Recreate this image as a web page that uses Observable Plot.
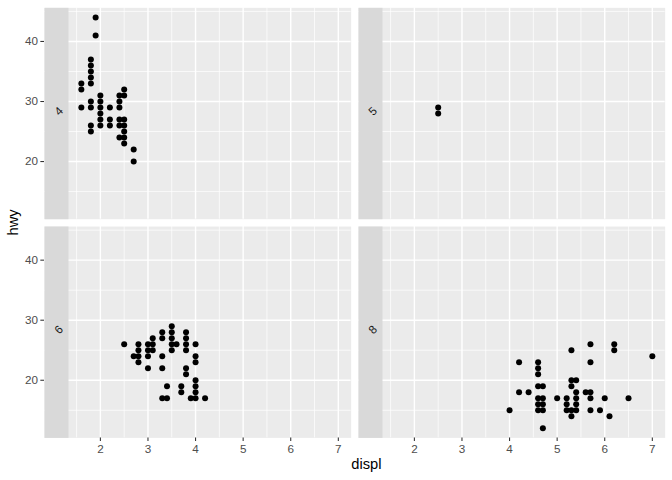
<!DOCTYPE html>
<html>
<head>
<meta charset="utf-8">
<script src="https://cdn.jsdelivr.net/npm/d3@7"></script>
<script src="https://cdn.jsdelivr.net/npm/@observablehq/plot@0.6"></script>
<style>
  html, body { margin: 0; padding: 0; background: white; }
  #wrap { position: relative; width: 672px; height: 480px; font-family: "Liberation Sans", Arial, sans-serif; }
  .axis-title { position: absolute; font-size: 14.7px; line-height: 1; color: #000; white-space: nowrap; }
</style>
</head>
<body>
<div id="wrap"></div>
<script>
// ---- data (unique displ/hwy pairs per cylinder count) ----
const cylinders = ["4", "5", "6", "8"];

const displ4 = [1.6,1.6,1.6, 1.8,1.8,1.8,1.8,1.8,1.8,1.8,1.8,1.8, 1.9,1.9, 2.0,2.0,2.0,2.0,2.0,2.0, 2.2,2.2,2.2, 2.4,2.4,2.4,2.4,2.4,2.4, 2.5,2.5,2.5,2.5,2.5,2.5,2.5, 2.7,2.7];
const hwy4   = [29,32,33, 25,26,29,30,33,34,35,36,37, 41,44, 26,27,28,29,30,31, 26,27,29, 24,26,27,29,30,31, 23,24,25,26,27,31,32, 20,22];

const displ5 = [2.5, 2.5];
const hwy5   = [28, 29];

const displ6 = [2.5, 2.7, 2.8,2.8,2.8,2.8, 3.0,3.0,3.0,3.0, 3.1,3.1,3.1, 3.3,3.3,3.3,3.3,3.3, 3.4,3.4, 3.5,3.5,3.5,3.5,3.5, 3.6, 3.7,3.7, 3.8,3.8,3.8,3.8,3.8,3.8, 3.9, 4.0,4.0,4.0,4.0,4.0,4.0,4.0, 4.2];
const hwy6   = [26, 24, 23,24,25,26, 22,24,25,26, 25,26,27, 17,22,24,27,28, 17,19, 25,26,27,28,29, 26, 18,19, 21,22,25,26,27,28, 17, 17,18,19,20,23,24,26, 17];

const displ8 = [4.0, 4.2,4.2, 4.4, 4.6,4.6,4.6,4.6,4.6,4.6,4.6, 4.7,4.7,4.7,4.7,4.7, 5.0, 5.2,5.2,5.2, 5.3,5.3,5.3,5.3,5.3, 5.4,5.4,5.4,5.4,5.4, 5.6, 5.7,5.7,5.7,5.7,5.7, 5.9, 6.0, 6.1, 6.2,6.2, 6.5, 7.0];
const hwy8   = [15, 18,23, 18, 15,16,17,19,21,22,23, 12,15,16,17,19, 17, 15,16,17, 14,15,19,20,25, 15,16,17,18,20, 18, 15,17,18,23,26, 15, 17, 14, 25,26, 17, 24];

const xBreaks = [2, 3, 4, 5, 6, 7];
const xMinor  = [1.5, 2.5, 3.5, 4.5, 5.5, 6.5];
const yBreaks = [20, 30, 40];
const yMinor  = [15, 25, 35, 45];

const xTitle = "displ";
const yTitle = "hwy";

// ---- build table ----
const seriesDispl = [displ4, displ5, displ6, displ8];
const seriesHwy = [hwy4, hwy5, hwy6, hwy8];
const rows = [];
const strips = [];
cylinders.forEach((c, i) => {
  const col = i % 2, row = Math.floor(i / 2);
  strips.push({cyl: c, col, row});
  seriesDispl[i].forEach((d, j) => rows.push({displ: d, hwy: seriesHwy[i][j], cyl: c, col, row}));
});

// ggplot-like 5% expansion
const expand = (vals) => {
  const [lo, hi] = d3.extent(vals);
  const p = (hi - lo) * 0.05;
  return [lo - p, hi + p];
};
const xDomain = expand(rows.map(d => d.displ));
const yDomain = expand(rows.map(d => d.hwy));

// ---- layout ----
const W = 672, H = 480;
const mL = 44, mR = 7.33, mT = 7.33, mB = 42.6, gap = 7.33;
const stripW = 24;
const bw = (W - mL - mR - gap) / 2;
const bh = (H - mT - mB - gap) / 2;

const chart = Plot.plot({
  width: W,
  height: H,
  marginLeft: mL,
  marginRight: mR,
  marginTop: mT,
  marginBottom: mB,
  style: {fontFamily: "Liberation Sans, Arial, sans-serif", fontSize: "11.7px", background: "white", color: "#4D4D4D"},
  fx: {axis: null, paddingInner: gap / (bw + gap), paddingOuter: 0, round: false},
  fy: {axis: null, paddingInner: gap / (bh + gap), paddingOuter: 0, round: false},
  x: {domain: xDomain, insetLeft: stripW},
  y: {domain: yDomain},
  marks: [
    Plot.frame({fill: "#EBEBEB", stroke: "none"}),
    Plot.gridX(xMinor, {stroke: "white", strokeOpacity: 1, strokeWidth: 0.71}),
    Plot.gridY(yMinor, {stroke: "white", strokeOpacity: 1, strokeWidth: 0.71}),
    Plot.gridX(xBreaks, {stroke: "white", strokeOpacity: 1, strokeWidth: 1.42}),
    Plot.gridY(yBreaks, {stroke: "white", strokeOpacity: 1, strokeWidth: 1.42}),
    Plot.frame({fill: "#D9D9D9", stroke: "none", insetRight: bw - stripW}),
    Plot.text(strips, {fx: "col", fy: "row", text: "cyl", frameAnchor: "left", dx: stripW / 2, rotate: -45, fontSize: 11.7, fill: "#1A1A1A"}),
    Plot.dot(rows, {fx: "col", fy: "row", x: "displ", y: "hwy", r: 3, fill: "black"}),
    Plot.axisX(xBreaks, {anchor: "bottom", label: null, tickSize: 3.67, tickPadding: 2.9, stroke: "#333333", strokeWidth: 1.07, color: "#4D4D4D", fontSize: 11.7}),
    Plot.axisY(yBreaks, {anchor: "left", label: null, tickSize: 3.67, tickPadding: 2.9, stroke: "#333333", strokeWidth: 1.07, color: "#4D4D4D", fontSize: 11.7})
  ]
});

const wrap = document.getElementById("wrap");
wrap.appendChild(chart);

const xt = document.createElement("div");
xt.className = "axis-title";
xt.textContent = xTitle;
wrap.appendChild(xt);
const xCenter = (mL + stripW + W - mR) / 2;
xt.style.left = (xCenter - xt.offsetWidth / 2) + "px";
xt.style.top = "457px";

const yt = document.createElement("div");
yt.className = "axis-title";
yt.textContent = yTitle;
wrap.appendChild(yt);
const yCenter = (mT + H - mB) / 2;
yt.style.left = (12.7 - yt.offsetWidth / 2) + "px";
yt.style.top = (yCenter - yt.offsetHeight / 2) + "px";
yt.style.transform = "rotate(-90deg)";
</script>
</body>
</html>
